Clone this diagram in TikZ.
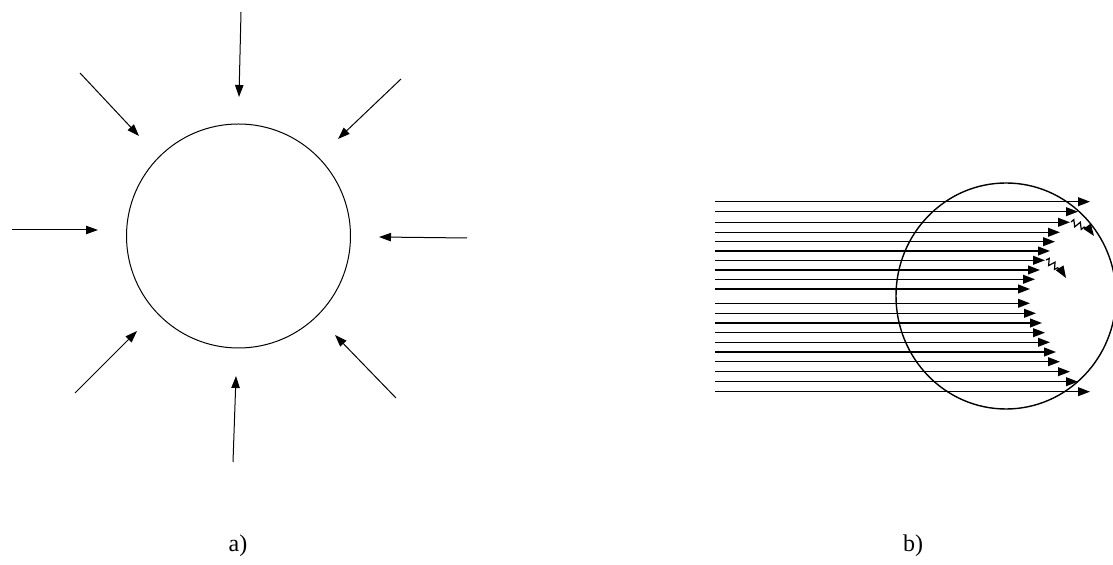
\documentclass[tikz,border=0pt]{standalone}
\usepackage{fontspec}
\setmainfont{Liberation Serif}
\usetikzlibrary{arrows.meta,decorations.pathmorphing,shapes.geometric}
\begin{document}
\begin{tikzpicture}[x=0.5pt,y=-0.5pt,
  ray/.style={line width=0.5pt,-{Triangle[length=6pt,width=4.2pt]}},
  beam/.style={line width=0.75pt,-{Triangle[length=6pt,width=4.4pt]}},
  wavy/.style={line width=0.6pt,decorate,decoration={zigzag,segment length=3.5pt,amplitude=1.6pt,post length=1pt}},
  lbl/.style={font=\fontsize{12}{14}\selectfont}]
\useasboundingbox (0,0) rectangle (1113,565);
% ---- a) ----
\node[draw,circle,line width=0.5pt,minimum size=112pt,inner sep=0pt] (A) at (238.5,236) {};
\coordinate (t0) at (241,12);  \coordinate (t1) at (239,97);
\coordinate (tl0) at (80,73);  \coordinate (tl1) at (139,136);
\coordinate (tr0) at (401,79); \coordinate (tr1) at (338,139);
\coordinate (l0) at (12,230);  \coordinate (l1) at (98,230);
\coordinate (r0) at (467,238); \coordinate (r1) at (379,237);
\coordinate (bl0) at (75,393); \coordinate (bl1) at (137,331);
\coordinate (b0) at (233,462); \coordinate (b1) at (236,376);
\coordinate (br0) at (396,398);\coordinate (br1) at (335,335);
\foreach \s in {t,tl,tr,l,r,bl,b,br} \draw[ray] (\s0) -- (\s1);
\node[lbl] (la) at (238,546) {a)};
% ---- b) ----
\node[draw,ellipse,line width=0.7pt,minimum width=110pt,minimum height=113pt,inner sep=0pt] (B) at (1006,296) {};
\foreach \y/\x [count=\i] in {201.7/1090,211.7/1078,222.3/1070,232.3/1060,241.7/1055,251/1050,260.3/1045,270/1040,279.3/1035,289/1030,303.3/1030,313.3/1036,323/1042,332.7/1045,342.3/1050,352/1056,361.7/1060,371.7/1070,381.7/1078,391.7/1090}{
  \coordinate (s\i) at (715,\y);
  \coordinate (e\i) at (\x,\y);
  \draw[beam] (s\i) -- (e\i);
}
\coordinate (w1a) at (1071,222);
\coordinate (w1b) at (1089,229);
\coordinate (w1c) at (1094,236);
\draw[wavy] (w1a) -- (w1b);
\draw[line width=0.6pt,-{Triangle[length=6pt,width=4.4pt]}] (w1b) -- (w1c);
\coordinate (w2a) at (1046,260);
\coordinate (w2b) at (1061,270);
\coordinate (w2c) at (1066,278);
\draw[wavy] (w2a) -- (w2b);
\draw[line width=0.6pt,-{Triangle[length=6pt,width=4.4pt]}] (w2b) -- (w2c);
\node[lbl] (lb) at (913,546) {b)};
\end{tikzpicture}
\end{document}
